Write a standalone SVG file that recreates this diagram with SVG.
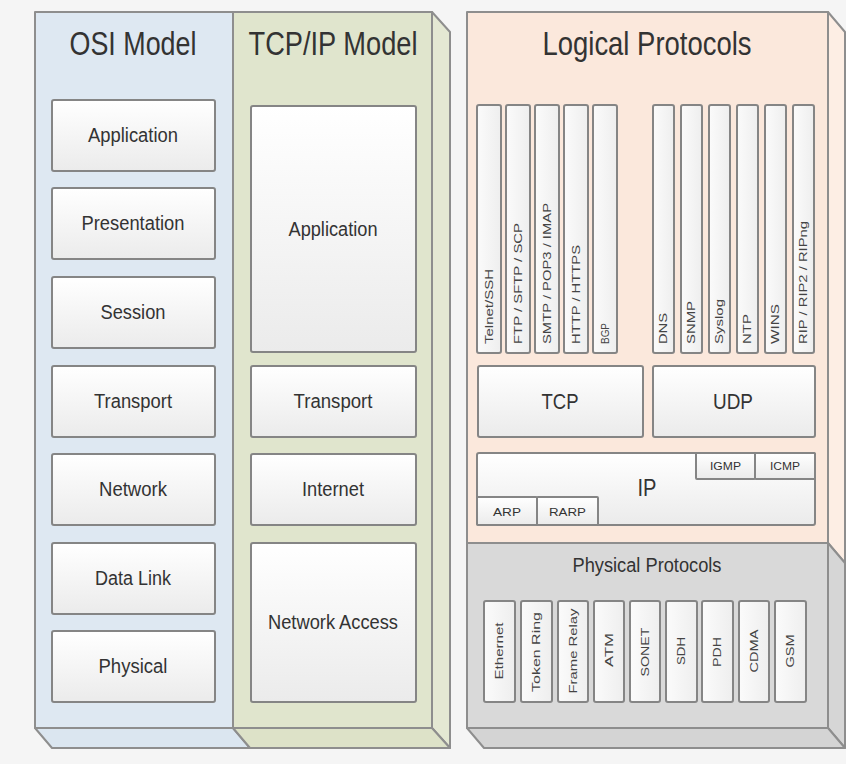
<svg xmlns="http://www.w3.org/2000/svg" width="846" height="764" viewBox="0 0 846 764">
<defs>
<linearGradient id="boxg" x1="0" y1="0" x2="0" y2="1">
<stop offset="0" stop-color="#ffffff"/>
<stop offset="1" stop-color="#ebebeb"/>
</linearGradient>
<linearGradient id="barg" x1="0" y1="0" x2="1" y2="0">
<stop offset="0" stop-color="#fbfbfb"/>
<stop offset="1" stop-color="#eeeeee"/>
</linearGradient>
</defs>
<style>
.pan{stroke:#8e8e8e;stroke-width:2;stroke-linejoin:round}
.box{fill:url(#boxg);stroke:#858585;stroke-width:2}
.bar{fill:url(#barg);stroke:#858585;stroke-width:2}
.t{font-family:"Liberation Sans",Arial,sans-serif;fill:#333333;text-anchor:middle}
.title{font-size:33px}
.lbl{font-size:20px}
.sm{font-size:10px}
.vt{font-family:"Liberation Sans",Arial,sans-serif;fill:#444444;font-size:10px}
</style>
<rect x="0" y="0" width="846" height="764" fill="#f5f5f5"/>

<g id="osi-model">
<polygon class="pan" points="35,728 233,728 250,748 52,748" fill="#dbe6f0"/>
<rect class="pan" x="35" y="12" width="198" height="716" fill="#dee8f2"/>
<text class="t title" x="133" y="55" textLength="127" lengthAdjust="spacingAndGlyphs">OSI Model</text>
<g id="osi-application"><rect class="box" x="52" y="100" width="163" height="71" rx="2"/><text class="t lbl" x="133" y="142" textLength="90" lengthAdjust="spacingAndGlyphs">Application</text></g>
<g id="osi-presentation"><rect class="box" x="52" y="188" width="163" height="71" rx="2"/><text class="t lbl" x="133" y="230" textLength="103" lengthAdjust="spacingAndGlyphs">Presentation</text></g>
<g id="osi-session"><rect class="box" x="52" y="277" width="163" height="71" rx="2"/><text class="t lbl" x="133" y="319" textLength="65" lengthAdjust="spacingAndGlyphs">Session</text></g>
<g id="osi-transport"><rect class="box" x="52" y="366" width="163" height="71" rx="2"/><text class="t lbl" x="133" y="408" textLength="78" lengthAdjust="spacingAndGlyphs">Transport</text></g>
<g id="osi-network"><rect class="box" x="52" y="454" width="163" height="71" rx="2"/><text class="t lbl" x="133" y="496" textLength="68" lengthAdjust="spacingAndGlyphs">Network</text></g>
<g id="osi-datalink"><rect class="box" x="52" y="543" width="163" height="71" rx="2"/><text class="t lbl" x="133" y="585" textLength="76" lengthAdjust="spacingAndGlyphs">Data Link</text></g>
<g id="osi-physical"><rect class="box" x="52" y="631" width="163" height="71" rx="2"/><text class="t lbl" x="133" y="673" textLength="69" lengthAdjust="spacingAndGlyphs">Physical</text></g>
</g>

<g id="tcpip-model">
<polygon class="pan" points="432,12 450,32 450,748 432,728" fill="#e4e8d3"/>
<polygon class="pan" points="233,728 432,728 450,748 250,748" fill="#dde2c8"/>
<rect class="pan" x="233" y="12" width="199" height="716" fill="#e0e5cd"/>
<text class="t title" x="333" y="55" textLength="169" lengthAdjust="spacingAndGlyphs">TCP/IP Model</text>
<g id="tcp-application"><rect class="box" x="251" y="106" width="165" height="246" rx="2"/><text class="t lbl" x="333" y="236" textLength="89" lengthAdjust="spacingAndGlyphs">Application</text></g>
<g id="tcp-transport"><rect class="box" x="251" y="366" width="165" height="71" rx="2"/><text class="t lbl" x="333" y="408" textLength="79" lengthAdjust="spacingAndGlyphs">Transport</text></g>
<g id="tcp-internet"><rect class="box" x="251" y="454" width="165" height="71" rx="2"/><text class="t lbl" x="333" y="496" textLength="62" lengthAdjust="spacingAndGlyphs">Internet</text></g>
<g id="tcp-network-access"><rect class="box" x="251" y="543" width="165" height="159" rx="2"/><text class="t lbl" x="333" y="629" textLength="130" lengthAdjust="spacingAndGlyphs">Network Access</text></g>
</g>

<g id="logical-protocols">
<polygon class="pan" points="828,12 845,32 845,563 828,543" fill="#fdeee4"/>
<rect class="pan" x="467" y="12" width="361" height="531" fill="#fbe8dc"/>
<text class="t title" x="647" y="55" textLength="209" lengthAdjust="spacingAndGlyphs">Logical Protocols</text>
<g id="p-telnet"><rect class="bar" x="477" y="105" width="24" height="248" rx="2"/><text class="vt" transform="translate(489,344) rotate(-90)" x="0" y="3.5" textLength="75" lengthAdjust="spacingAndGlyphs">Telnet/SSH</text></g>
<g id="p-ftp"><rect class="bar" x="506" y="105" width="24" height="248" rx="2"/><text class="vt" transform="translate(518,344) rotate(-90)" x="0" y="3.5" textLength="121" lengthAdjust="spacingAndGlyphs">FTP / SFTP / SCP</text></g>
<g id="p-smtp"><rect class="bar" x="535" y="105" width="24" height="248" rx="2"/><text class="vt" transform="translate(547,344) rotate(-90)" x="0" y="3.5" textLength="141" lengthAdjust="spacingAndGlyphs">SMTP / POP3 / IMAP</text></g>
<g id="p-http"><rect class="bar" x="564" y="105" width="24" height="248" rx="2"/><text class="vt" transform="translate(576,344) rotate(-90)" x="0" y="3.5" textLength="99" lengthAdjust="spacingAndGlyphs">HTTP / HTTPS</text></g>
<g id="p-bgp"><rect class="bar" x="593" y="105" width="24" height="248" rx="2"/><text class="vt" transform="translate(605,344) rotate(-90)" x="0" y="3.5" textLength="21" lengthAdjust="spacingAndGlyphs">BGP</text></g>
<g id="p-dns"><rect class="bar" x="653" y="105" width="21" height="248" rx="2"/><text class="vt" transform="translate(663.5,344) rotate(-90)" x="0" y="3.5" textLength="31" lengthAdjust="spacingAndGlyphs">DNS</text></g>
<g id="p-snmp"><rect class="bar" x="681" y="105" width="21" height="248" rx="2"/><text class="vt" transform="translate(691.5,344) rotate(-90)" x="0" y="3.5" textLength="43" lengthAdjust="spacingAndGlyphs">SNMP</text></g>
<g id="p-syslog"><rect class="bar" x="709" y="105" width="21" height="248" rx="2"/><text class="vt" transform="translate(719.5,344) rotate(-90)" x="0" y="3.5" textLength="45" lengthAdjust="spacingAndGlyphs">Syslog</text></g>
<g id="p-ntp"><rect class="bar" x="737" y="105" width="21" height="248" rx="2"/><text class="vt" transform="translate(747.5,344) rotate(-90)" x="0" y="3.5" textLength="30" lengthAdjust="spacingAndGlyphs">NTP</text></g>
<g id="p-wins"><rect class="bar" x="765" y="105" width="21" height="248" rx="2"/><text class="vt" transform="translate(775.5,344) rotate(-90)" x="0" y="3.5" textLength="40" lengthAdjust="spacingAndGlyphs">WINS</text></g>
<g id="p-rip"><rect class="bar" x="793" y="105" width="21" height="248" rx="2"/><text class="vt" transform="translate(803.5,344) rotate(-90)" x="0" y="3.5" textLength="123" lengthAdjust="spacingAndGlyphs">RIP / RIP2 / RIPng</text></g>
<g id="p-tcp"><rect class="box" x="478" y="366" width="165" height="71" rx="2"/><text class="t" style="font-size:22px" x="560" y="409" textLength="37" lengthAdjust="spacingAndGlyphs">TCP</text></g>
<g id="p-udp"><rect class="box" x="653" y="366" width="162" height="71" rx="2"/><text class="t" style="font-size:22px" x="733" y="409" textLength="40" lengthAdjust="spacingAndGlyphs">UDP</text></g>
<g id="p-ip"><rect class="box" x="477" y="453" width="338" height="72" rx="2"/><text class="t" style="font-size:24px" x="647" y="496" textLength="19" lengthAdjust="spacingAndGlyphs">IP</text></g>
<g id="p-igmp"><rect class="box" x="696" y="453" width="59" height="26" rx="1"/><text class="t sm" x="725.5" y="470" textLength="31" lengthAdjust="spacingAndGlyphs">IGMP</text></g>
<g id="p-icmp"><rect class="box" x="755" y="453" width="60" height="26" rx="1"/><text class="t sm" x="785" y="470" textLength="30" lengthAdjust="spacingAndGlyphs">ICMP</text></g>
<g id="p-arp"><rect class="box" x="477" y="497" width="60" height="28" rx="1"/><text class="t sm" x="507" y="516" textLength="28" lengthAdjust="spacingAndGlyphs">ARP</text></g>
<g id="p-rarp"><rect class="box" x="537" y="497" width="61" height="28" rx="1"/><text class="t sm" x="567.5" y="516" textLength="37" lengthAdjust="spacingAndGlyphs">RARP</text></g>
</g>

<g id="physical-protocols">
<polygon class="pan" points="828,543 845,563 845,748 828,728" fill="#d6d6d6"/>
<polygon class="pan" points="467,728 828,728 845,748 484,748" fill="#d4d4d4"/>
<rect class="pan" x="467" y="543" width="361" height="185" fill="#d9d9d9"/>
<text class="t" style="font-size:20px" x="647" y="572" textLength="149" lengthAdjust="spacingAndGlyphs">Physical Protocols</text>
<g id="ph-ethernet"><rect class="bar" x="484" y="601" width="31" height="101" rx="2"/><text class="vt" text-anchor="middle" transform="translate(499.5,651) rotate(-90)" x="0" y="3.5" textLength="57" lengthAdjust="spacingAndGlyphs">Ethernet</text></g>
<g id="ph-tokenring"><rect class="bar" x="521" y="601" width="31" height="101" rx="2"/><text class="vt" text-anchor="middle" transform="translate(536.5,652) rotate(-90)" x="0" y="3.5" textLength="80" lengthAdjust="spacingAndGlyphs">Token Ring</text></g>
<g id="ph-framerelay"><rect class="bar" x="558" y="601" width="30" height="101" rx="2"/><text class="vt" text-anchor="middle" transform="translate(573,651) rotate(-90)" x="0" y="3.5" textLength="85" lengthAdjust="spacingAndGlyphs">Frame Relay</text></g>
<g id="ph-atm"><rect class="bar" x="594" y="601" width="30" height="101" rx="2"/><text class="vt" text-anchor="middle" transform="translate(609,650) rotate(-90)" x="0" y="3.5" textLength="34" lengthAdjust="spacingAndGlyphs">ATM</text></g>
<g id="ph-sonet"><rect class="bar" x="630" y="601" width="30" height="101" rx="2"/><text class="vt" text-anchor="middle" transform="translate(645,652) rotate(-90)" x="0" y="3.5" textLength="49" lengthAdjust="spacingAndGlyphs">SONET</text></g>
<g id="ph-sdh"><rect class="bar" x="666" y="601" width="31" height="101" rx="2"/><text class="vt" text-anchor="middle" transform="translate(681.5,651) rotate(-90)" x="0" y="3.5" textLength="28" lengthAdjust="spacingAndGlyphs">SDH</text></g>
<g id="ph-pdh"><rect class="bar" x="702" y="601" width="31" height="101" rx="2"/><text class="vt" text-anchor="middle" transform="translate(717.5,652) rotate(-90)" x="0" y="3.5" textLength="30" lengthAdjust="spacingAndGlyphs">PDH</text></g>
<g id="ph-cdma"><rect class="bar" x="739" y="601" width="30" height="101" rx="2"/><text class="vt" text-anchor="middle" transform="translate(754,651) rotate(-90)" x="0" y="3.5" textLength="43" lengthAdjust="spacingAndGlyphs">CDMA</text></g>
<g id="ph-gsm"><rect class="bar" x="775" y="601" width="31" height="101" rx="2"/><text class="vt" text-anchor="middle" transform="translate(790.5,651) rotate(-90)" x="0" y="3.5" textLength="33" lengthAdjust="spacingAndGlyphs">GSM</text></g>
</g>
</svg>
